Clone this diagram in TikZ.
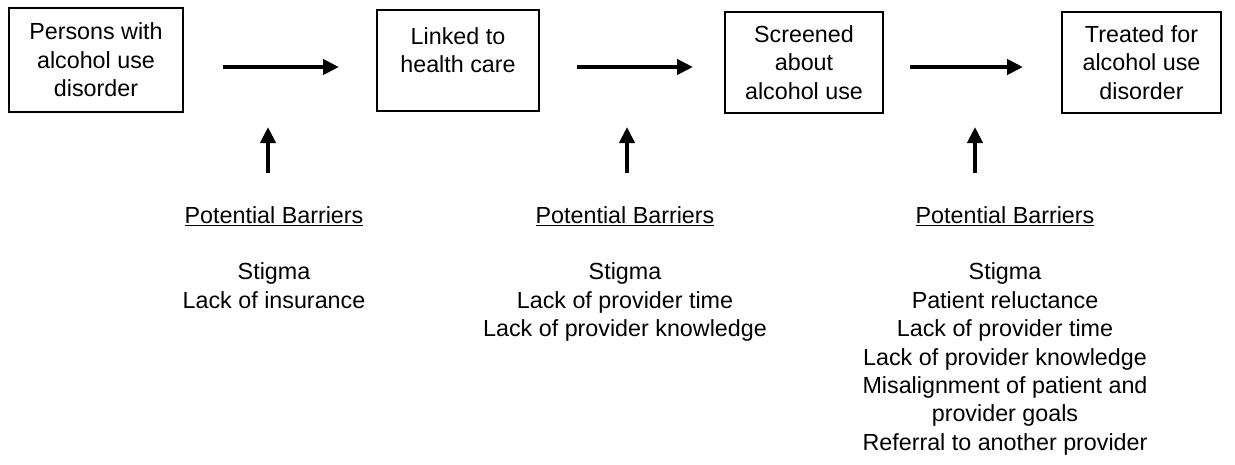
\documentclass[tikz,border=0pt]{standalone}
\usepackage{fontspec}
\setmainfont{Liberation Sans}
\usetikzlibrary{arrows.meta}
\tikzset{
 stage/.style={draw,line width=1.6pt,align=center,inner sep=0pt,font=\fontsize{23.3}{28.5}\selectfont},
 barrier/.style={align=center,anchor=north,inner sep=0pt,font=\fontsize{23.3}{28.4}\selectfont},
 flow/.style={line width=4pt,-{Triangle[length=16pt,width=15pt]}}
}
\begin{document}
\begin{tikzpicture}[x=1pt,y=-1pt]
 \useasboundingbox (0,0) rectangle (1235,464);
 \node[stage,minimum width=174,minimum height=104] (persons) at (96,60) {Persons with\\alcohol use\\disorder};
 \node[stage,minimum width=162,minimum height=101] (linked) at (458,60.5) {Linked to\\health care\\[-8pt]\mbox{}};
 \node[stage,minimum width=158,minimum height=101] (screened) at (804,62.5) {Screened\\about\\alcohol use};
 \node[stage,minimum width=159,minimum height=101] (treated) at (1141.5,62.5) {Treated for\\alcohol use\\disorder};
 \node[barrier] (barA) at (274,206) {\underline{Potential Barriers}\\[28.4pt]Stigma\\Lack of insurance};
 \node[barrier] (barB) at (625,206) {\underline{Potential Barriers}\\[28.4pt]Stigma\\Lack of provider time\\Lack of provider knowledge};
 \node[barrier] (barC) at (1005,206) {\underline{Potential Barriers}\\[28.4pt]Stigma\\Patient reluctance\\Lack of provider time\\Lack of provider knowledge\\Misalignment of patient and\\provider goals\\Referral to another provider};
 \coordinate (fA) at (223,67); \coordinate (fAend) at (339,67);
 \coordinate (fB) at (577,67); \coordinate (fBend) at (693,67);
 \coordinate (fC) at (910,67); \coordinate (fCend) at (1023,67);
 \coordinate (uA) at (268,173); \coordinate (uAend) at (268,127);
 \coordinate (uB) at (627,173); \coordinate (uBend) at (627,127);
 \coordinate (uC) at (975,173); \coordinate (uCend) at (975,127);
 \draw[flow] (fA)--(fAend); \draw[flow] (fB)--(fBend); \draw[flow] (fC)--(fCend);
 \draw[flow] (uA)--(uAend); \draw[flow] (uB)--(uBend); \draw[flow] (uC)--(uCend);
\end{tikzpicture}
\end{document}
